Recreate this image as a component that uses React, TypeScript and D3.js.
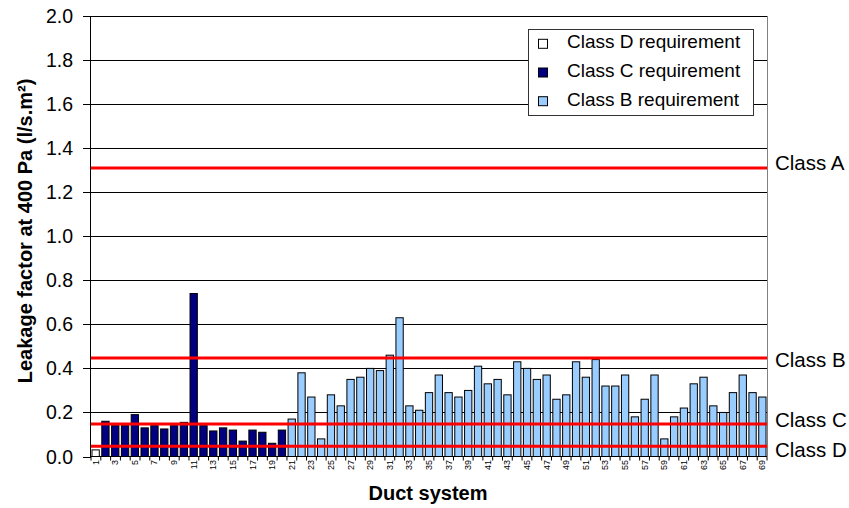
import React from "react";
import * as d3 from "d3";

// ---- Data ----
const seriesNames = ["Class D requirement", "Class C requirement", "Class B requirement"];
const seriesColors = ["#FFFFFF", "#000080", "#99CCFF"];

// Duct systems in order: 1 (class D), 2–20 (class C), 21–69 (class B)
const classDValues = [0.03];
const classCValues = [
  0.16, 0.14, 0.14, 0.19, 0.13, 0.14, 0.125, 0.14, 0.155, 0.74,
  0.14, 0.116, 0.13, 0.12, 0.07, 0.12, 0.11, 0.06, 0.12,
];
const classBValues = [
  0.17, 0.38, 0.27, 0.08, 0.28, 0.23, 0.35, 0.36, 0.4, 0.39,
  0.46, 0.63, 0.23, 0.21, 0.29, 0.37, 0.29, 0.27, 0.3, 0.41,
  0.33, 0.35, 0.28, 0.43, 0.4, 0.35, 0.37, 0.26, 0.28, 0.43,
  0.36, 0.44, 0.32, 0.32, 0.37, 0.18, 0.26, 0.37, 0.08, 0.18,
  0.22, 0.33, 0.36, 0.23, 0.2, 0.29, 0.37, 0.29, 0.27,
];

const classLabels = ["Class A", "Class B", "Class C", "Class D"];
const classLimits = [1.31, 0.447, 0.147, 0.047];
const classLabelDy = [2.5, 8.5, 3, 10.5];

const yTickValues = [0, 0.2, 0.4, 0.6, 0.8, 1.0, 1.2, 1.4, 1.6, 1.8, 2.0];

const yTitle = "Leakage factor at 400 Pa (l/s.m²)";
const xTitle = "Duct system";

// ---- Layout ----
const W = 849;
const H = 508;
const plot = { left: 91, right: 767, top: 16, bottom: 456.5 };
const FONT = "'Liberation Sans', Arial, Helvetica, sans-serif";

type Datum = { duct: number; value: number; series: number };

const data: Datum[] = [classDValues, classCValues, classBValues]
  .flatMap((vals, s) => vals.map((v) => ({ value: v, series: s })))
  .map((d, i) => ({ ...d, duct: i + 1 }));

const ducts = data.map((d) => d.duct);

export default function App() {
  const x = d3
    .scaleBand<number>()
    .domain(ducts)
    .range([plot.left, plot.right])
    .paddingInner(0.255)
    .paddingOuter(0.1);
  const y = d3.scaleLinear().domain([0, 2]).range([plot.bottom, plot.top]);
  const step = (plot.right - plot.left) / ducts.length;

  return (
    <svg
      width={W}
      height={H}
      style={{ position: "absolute", left: 0, top: 0, background: "#fff" }}
      fontFamily={FONT}
    >
      <rect x={0} y={0} width={W} height={H} fill="#fff" />
      {/* gridlines */}
      {yTickValues.slice(1).map((t) => (
        <line
          key={"g" + t}
          x1={plot.left}
          x2={plot.right}
          y1={Math.round(y(t)) + 0.5}
          y2={Math.round(y(t)) + 0.5}
          stroke="#000"
          strokeWidth={1}
        />
      ))}
      {/* right border */}
      <line x1={plot.right + 0.5} x2={plot.right + 0.5} y1={plot.top} y2={plot.bottom} stroke="#808080" strokeWidth={1} />

      {/* legend */}
      <g>
        <rect x={528.5} y={29.5} width={225} height={86} fill="#fff" stroke="#333" strokeWidth={1} />
        {seriesNames.map((name, i) => {
          const baseline = 48.3 + i * 28.7;
          return (
            <g key={name}>
              <rect x={538.5} y={baseline - 9} width={9} height={9} fill={seriesColors[i]} stroke="#000" strokeWidth={1} />
              <text x={567} y={baseline} fontSize={19} fill="#000">
                {name}
              </text>
            </g>
          );
        })}
      </g>

      {/* bars */}
      {data.map((d) => (
        <rect
          key={d.duct}
          x={x(d.duct)!}
          y={y(d.value)}
          width={x.bandwidth()}
          height={y(0) - y(d.value)}
          fill={seriesColors[d.series]}
          stroke="#000"
          strokeWidth={1}
        />
      ))}

      {/* class limit lines */}
      {classLimits.map((v, i) => (
        <g key={classLabels[i]}>
          <line x1={plot.left} x2={plot.right} y1={y(v)} y2={y(v)} stroke="#FF0000" strokeWidth={3} />
          <text x={775} y={y(v) + classLabelDy[i]} fontSize={20.5} fill="#000">
            {classLabels[i]}
          </text>
        </g>
      ))}

      {/* y axis */}
      <line x1={plot.left - 0.5} x2={plot.left - 0.5} y1={plot.top} y2={plot.bottom} stroke="#000" strokeWidth={1} />
      {yTickValues.map((t) => (
        <g key={"t" + t}>
          <line
            x1={plot.left - 8}
            x2={plot.left}
            y1={Math.round(y(t)) + 0.5}
            y2={Math.round(y(t)) + 0.5}
            stroke="#000"
            strokeWidth={1}
          />
          <text x={73} y={y(t) + 7} textAnchor="end" fontSize={19.5} fill="#000">
            {d3.format(".1f")(t)}
          </text>
        </g>
      ))}

      {/* x axis */}
      <line x1={plot.left - 1} x2={plot.right} y1={plot.bottom} y2={plot.bottom} stroke="#000" strokeWidth={1} />
      {d3.range(ducts.length + 1).map((i) => (
        <line
          key={"xt" + i}
          x1={plot.left + i * step}
          x2={plot.left + i * step}
          y1={plot.bottom}
          y2={plot.bottom + 4}
          stroke="#000"
          strokeWidth={1}
        />
      ))}
      {ducts
        .filter((dct) => dct % 2 === 1)
        .map((dct) => {
          const cx = x(dct)! + x.bandwidth() / 2 + 3;
          return (
            <text
              key={"xl" + dct}
              transform={`translate(${cx},${460}) rotate(-90)`}
              textAnchor="end"
              fontSize={9}
              fill="#000"
            >
              {dct}
            </text>
          );
        })}

      {/* titles */}
      <text
        transform={`translate(32,231) rotate(-90)`}
        textAnchor="middle"
        fontSize={20}
        fontWeight="bold"
        fill="#000"
      >
        {yTitle}
      </text>
      <text x={428} y={500} textAnchor="middle" fontSize={20} fontWeight="bold" fill="#000">
        {xTitle}
      </text>
    </svg>
  );
}
